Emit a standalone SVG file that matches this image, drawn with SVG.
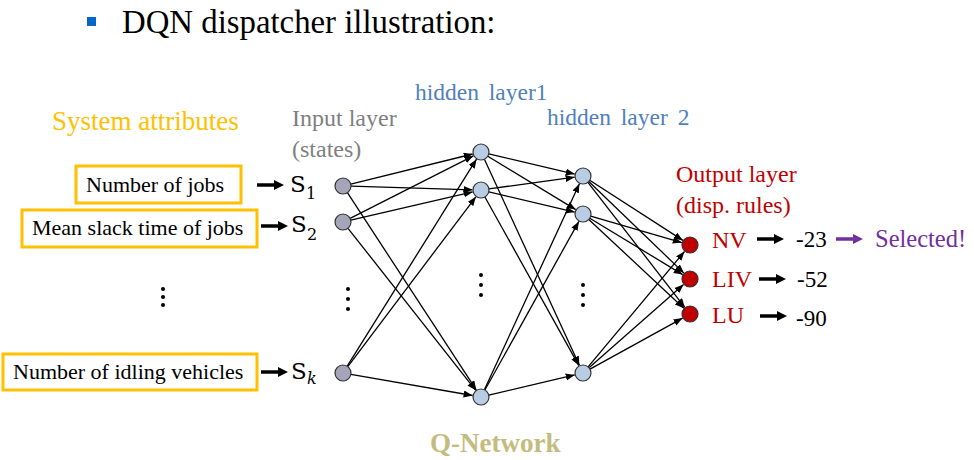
<svg xmlns="http://www.w3.org/2000/svg" width="974" height="460" viewBox="0 0 974 460" font-family="'Liberation Serif', 'Times New Roman', serif">
<defs>
<marker id="ah" markerUnits="userSpaceOnUse" markerWidth="10" markerHeight="8" refX="9" refY="3.5" orient="auto">
<path d="M0,0 L9,3.5 L0,7 z" fill="#000"/>
</marker>
<marker id="bh" markerUnits="userSpaceOnUse" markerWidth="10" markerHeight="10" refX="4" refY="5" orient="auto">
<path d="M0,0 L10,5 L0,10 z" fill="#000"/>
</marker>
<marker id="ph" markerUnits="userSpaceOnUse" markerWidth="10" markerHeight="10" refX="4" refY="5" orient="auto">
<path d="M0,0 L10,5 L0,10 z" fill="#7030A0"/>
</marker>
</defs>
<style>
.title{font-size:32.8px;fill:#000;}
.box{fill:#fff;stroke:#FFC000;stroke-width:3;}
.bt{font-size:22px;fill:#000;}
.sys{font-size:27px;fill:#FFC000;}
.inl{font-size:24px;fill:#7F7F7F;}
.hid{font-size:23.5px;fill:#4F81BD;word-spacing:4px;}
.outl{font-size:24px;fill:#C00000;}
.val{font-size:23px;fill:#000;}
.sel{font-size:24.5px;fill:#7030A0;}
.qn{font-size:27px;font-weight:bold;fill:#C4BC7E;}
.s{font-size:23px;fill:#000;}
.sub{font-size:16px;fill:#000;}
.ni{fill:#A5A5BA;stroke:#333;stroke-width:1.2;}
.nh{fill:#B8CDE3;stroke:#333;stroke-width:1.2;}
.no{fill:#C00000;stroke:#333;stroke-width:1.2;}
.e{stroke:#000;stroke-width:1.3;fill:none;marker-end:url(#ah);}
.ba{stroke:#000;stroke-width:3.5;marker-end:url(#bh);}
.pa{stroke:#7030A0;stroke-width:3.5;marker-end:url(#ph);}
.dot{fill:#000;}
</style>

<rect x="87" y="17" width="9" height="9" fill="#0066CC"/>
<text class="title" x="122" y="33" font-family="'Liberation Serif', serif">DQN dispatcher illustration:</text>

<text class="sys" x="52" y="130" font-family="'Liberation Serif', serif">System attributes</text>
<text class="inl" x="292" y="126" font-family="'Liberation Serif', serif">Input layer</text>
<text class="inl" x="292" y="157" font-family="'Liberation Serif', serif">(states)</text>
<text class="hid" x="415" y="100" font-family="'Liberation Serif', serif">hidden layer1</text>
<text class="hid" x="547" y="125" font-family="'Liberation Serif', serif">hidden layer 2</text>
<text class="outl" x="676" y="182" font-family="'Liberation Serif', serif">Output layer</text>
<text class="outl" x="676" y="213" font-family="'Liberation Serif', serif">(disp. rules)</text>
<text class="qn" x="430" y="452" font-family="'Liberation Serif', serif">Q-Network</text>

<g id="attr1" font-family="'Liberation Serif', serif">
<rect class="box" x="76" y="166" width="165" height="37"/>
<text class="bt" x="86" y="192">Number of jobs</text>
</g>
<g id="attr2" font-family="'Liberation Serif', serif">
<rect class="box" x="22" y="210" width="235" height="37"/>
<text class="bt" x="32" y="235">Mean slack time of jobs</text>
</g>
<g id="attrk" font-family="'Liberation Serif', serif">
<rect class="box" x="3" y="354" width="254" height="36"/>
<text class="bt" x="13" y="379">Number of idling vehicles</text>
</g>
<g id="attrdots">
<circle class="dot" cx="163" cy="289" r="2"/>
<circle class="dot" cx="163" cy="297" r="2"/>
<circle class="dot" cx="163" cy="305" r="2"/>
</g>

<g id="labels-s" font-family="'DejaVu Serif', serif">
<text class="s" x="290" y="192">S</text><text class="sub" x="306" y="199">1</text>
<text class="s" x="291" y="232">S</text><text class="sub" x="307" y="240">2</text>
<text class="s" x="291" y="379">S</text><text class="sub" x="307" y="384" font-style="italic">k</text>
</g>

<g id="connectors">
<line class="ba" x1="257" y1="185" x2="278" y2="185"/>
<line class="ba" x1="261" y1="226" x2="282" y2="226"/>
<line class="ba" x1="261" y1="372" x2="282" y2="372"/>
<line class="ba" x1="757" y1="239" x2="778" y2="239"/>
<line class="ba" x1="759" y1="279" x2="780" y2="279"/>
<line class="ba" x1="760" y1="316" x2="781" y2="316"/>
<line class="pa" x1="836" y1="239" x2="857" y2="239"/>

<line class="e" x1="350.8" y1="184.1" x2="472.7" y2="154.0"/>
<line class="e" x1="351.0" y1="186.2" x2="472.5" y2="189.8"/>
<line class="e" x1="347.4" y1="192.7" x2="476.3" y2="389.9"/>
<line class="e" x1="350.1" y1="218.4" x2="473.4" y2="155.8"/>
<line class="e" x1="350.8" y1="220.2" x2="472.7" y2="191.9"/>
<line class="e" x1="348.0" y1="228.3" x2="475.7" y2="390.3"/>
<line class="e" x1="347.2" y1="366.2" x2="476.5" y2="159.2"/>
<line class="e" x1="347.8" y1="366.6" x2="475.9" y2="196.8"/>
<line class="e" x1="350.9" y1="374.4" x2="472.6" y2="395.5"/>

<line class="e" x1="488.8" y1="153.8" x2="574.7" y2="174.1"/>
<line class="e" x1="487.8" y1="156.2" x2="575.7" y2="209.6"/>
<line class="e" x1="484.4" y1="159.3" x2="579.4" y2="365.3"/>
<line class="e" x1="488.9" y1="188.9" x2="574.6" y2="177.2"/>
<line class="e" x1="488.8" y1="191.8" x2="574.7" y2="212.1"/>
<line class="e" x1="484.9" y1="197.0" x2="578.9" y2="365.6"/>
<line class="e" x1="484.4" y1="389.7" x2="579.4" y2="183.7"/>
<line class="e" x1="484.9" y1="390.0" x2="578.9" y2="221.4"/>
<line class="e" x1="488.8" y1="395.2" x2="574.7" y2="374.9"/>

<line class="e" x1="589.7" y1="180.3" x2="682.9" y2="240.4"/>
<line class="e" x1="588.8" y1="181.5" x2="683.9" y2="273.1"/>
<line class="e" x1="587.9" y1="182.3" x2="684.8" y2="307.3"/>
<line class="e" x1="590.7" y1="216.2" x2="681.8" y2="242.6"/>
<line class="e" x1="589.8" y1="218.2" x2="682.7" y2="274.6"/>
<line class="e" x1="588.8" y1="219.5" x2="683.8" y2="308.2"/>
<line class="e" x1="588.1" y1="366.9" x2="684.5" y2="251.5"/>
<line class="e" x1="589.0" y1="367.7" x2="683.6" y2="284.6"/>
<line class="e" x1="590.0" y1="369.1" x2="682.6" y2="318.1"/>
</g>

<g id="input-layer">
<circle class="ni" cx="343" cy="186" r="8"/>
<circle class="ni" cx="343" cy="222" r="8"/>
<circle class="ni" cx="343" cy="373" r="8"/>
<circle class="dot" cx="348" cy="289" r="2"/>
<circle class="dot" cx="348" cy="299" r="2"/>
<circle class="dot" cx="348" cy="309" r="2"/>
</g>
<g id="hidden-layer1">
<circle class="nh" cx="481" cy="152" r="8"/>
<circle class="nh" cx="481" cy="190" r="8"/>
<circle class="nh" cx="481" cy="397" r="8"/>
<circle class="dot" cx="481" cy="275" r="2"/>
<circle class="dot" cx="481" cy="285" r="2"/>
<circle class="dot" cx="481" cy="295" r="2"/>
</g>
<g id="hidden-layer2">
<circle class="nh" cx="583" cy="176" r="8"/>
<circle class="nh" cx="583" cy="214" r="8"/>
<circle class="nh" cx="583" cy="373" r="8"/>
<circle class="dot" cx="583" cy="285" r="2"/>
<circle class="dot" cx="583" cy="295" r="2"/>
<circle class="dot" cx="583" cy="305" r="2"/>
</g>
<g id="output-nv" font-family="'Liberation Serif', serif">
<circle class="no" cx="690" cy="245" r="8"/>
<text class="outl" x="712" y="248">NV</text>
<text class="val" x="796" y="247">-23</text>
<text class="sel" x="875" y="247">Selected!</text>
</g>
<g id="output-liv" font-family="'Liberation Serif', serif">
<circle class="no" cx="690" cy="279" r="8"/>
<text class="outl" x="712" y="287">LIV</text>
<text class="val" x="797" y="287">-52</text>
</g>
<g id="output-lu" font-family="'Liberation Serif', serif">
<circle class="no" cx="690" cy="314" r="8"/>
<text class="outl" x="712" y="323">LU</text>
<text class="val" x="796" y="326">-90</text>
</g>
</svg>
